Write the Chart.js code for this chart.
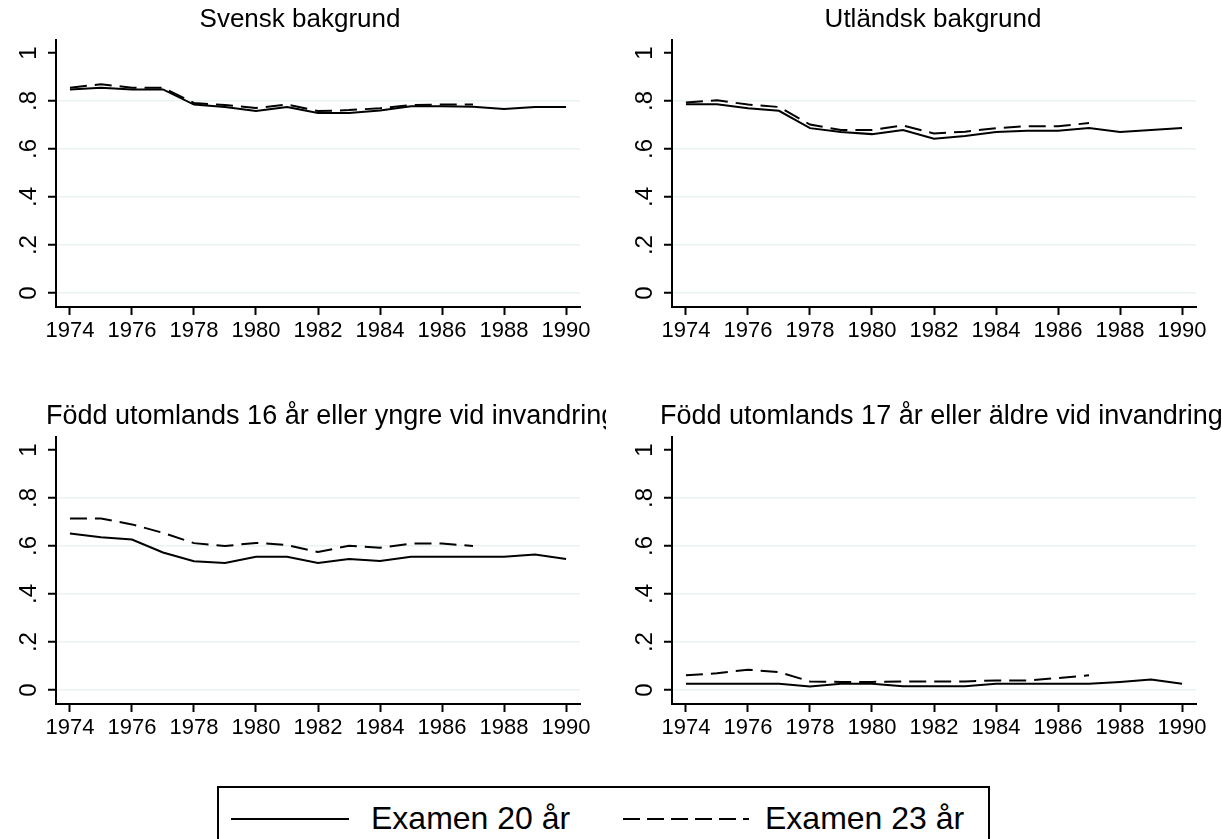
<!DOCTYPE html>
<html>
<head>
<meta charset="utf-8">
<script src="https://cdn.jsdelivr.net/npm/chart.js@4"></script>
<style>
  body { margin: 0; background: #fff; overflow: hidden; width: 1222px; height: 839px; position: relative;
         font-family: 'Liberation Sans', Arial, sans-serif; }
  canvas { position: absolute; }
  #legend { position: absolute; left: 217px; top: 786px; width: 769px; height: 80px; border: 2px solid #000; }
  #legend .txt { position: absolute; top: 12px; font-size: 32px; line-height: 36px; color: #000; white-space: nowrap; }
  #legend svg { position: absolute; top: 29px; }
</style>
</head>
<body>
<canvas id="panel1" width="600" height="352" style="left:0;top:0"></canvas>
<canvas id="panel2" width="592" height="352" style="left:630px;top:0"></canvas>
<canvas id="panel3" width="606" height="352" style="left:0;top:397px"></canvas>
<canvas id="panel4" width="592" height="352" style="left:630px;top:397px"></canvas>

<div id="legend">
  <svg width="120" height="4" style="left:12px"><line x1="0" y1="2" x2="118" y2="2" stroke="#000" stroke-width="2"/></svg>
  <span class="txt" style="left:152px">Examen 20 år</span>
  <svg width="126" height="4" style="left:404px"><line x1="0" y1="2" x2="126" y2="2" stroke="#000" stroke-width="2" stroke-dasharray="17 7"/></svg>
  <span class="txt" style="left:546px">Examen 23 år</span>
</div>

<script>
// years on the x axis; the 23-year series stops in 1987
const years = [1974, 1975, 1976, 1977, 1978, 1979, 1980, 1981, 1982, 1983, 1984, 1985, 1986, 1987, 1988, 1989, 1990];
const xTicks = [1974, 1976, 1978, 1980, 1982, 1984, 1986, 1988, 1990];
const yTicks = [0, 0.2, 0.4, 0.6, 0.8, 1];
const yTickLabels = ['0', '.2', '.4', '.6', '.8', '1'];

const titles = [
    'Svensk bakgrund',
    'Utländsk bakgrund',
    'Född utomlands 16 år eller yngre vid invandring',
    'Född utomlands 17 år eller äldre vid invandring'
];
const legendLabels = ['Examen 20 år', 'Examen 23 år'];

const svensk20 = [.848, .855, .848, .848, .785, .775, .758, .775, .750, .750, .760, .778, .778, .776, .767, .775, .775];
const svensk23 = [.855, .870, .855, .855, .792, .783, .771, .785, .758, .762, .770, .783, .785, .785];

const utl20 = [.786, .786, .770, .759, .687, .671, .662, .679, .643, .654, .671, .676, .676, .687, .671, .679, .687];
const utl23 = [.794, .803, .785, .775, .702, .679, .679, .698, .665, .672, .687, .695, .695, .708];

const ung20 = [.652, .636, .627, .573, .537, .529, .555, .555, .529, .546, .538, .555, .555, .555, .555, .565, .546];
const ung23 = [.715, .715, .690, .655, .612, .600, .613, .604, .575, .601, .593, .610, .610, .600];

const aldre20 = [.026, .026, .026, .026, .015, .026, .026, .016, .016, .016, .026, .026, .026, .026, .034, .044, .026];
const aldre23 = [.062, .070, .085, .075, .036, .034, .034, .036, .036, .036, .040, .040, .050, .062];

Chart.defaults.font.family = "'Liberation Sans', Arial, sans-serif";
Chart.defaults.color = '#000';

// the panel titles sit at fixed spots (the long ones run past the panel edge)
const panelTitle = {
    id: 'panelTitle',
    afterDraw(chart, args, opts) {
        const ctx = chart.ctx;
        ctx.save();
        ctx.font = opts.size + "px 'Liberation Sans', Arial, sans-serif";
        ctx.fillStyle = '#000';
        ctx.textAlign = opts.align;
        ctx.textBaseline = 'middle';
        ctx.fillText(opts.text, opts.x, 20);
        ctx.restore();
    }
};

function toPoints(values) {
    return values.map((v, i) => ({ x: years[i], y: v }));
}

function makePanel(id, title, ex20, ex23, box) {
    const canvas = document.getElementById(id);
    new Chart(canvas, {
        type: 'line',
        data: {
            datasets: [
                {
                    label: legendLabels[0],
                    data: toPoints(ex20),
                    borderColor: '#000',
                    borderWidth: 2,
                    pointRadius: 0,
                    tension: 0
                },
                {
                    label: legendLabels[1],
                    data: toPoints(ex23),
                    borderColor: '#000',
                    borderWidth: 2,
                    borderDash: [17, 8],
                    pointRadius: 0,
                    tension: 0
                }
            ]
        },
        plugins: [panelTitle],
        options: {
            responsive: false,
            animation: false,
            layout: { padding: { left: 0, right: box.padRight, top: 40, bottom: 0 } },
            scales: {
                x: {
                    type: 'linear',
                    min: 1973.55,
                    max: 1990.45,
                    afterBuildTicks: scale => { scale.ticks = xTicks.map(v => ({ value: v })); },
                    afterFit: scale => { scale.height = 45; },
                    border: { color: '#000', width: 2 },
                    grid: { drawOnChartArea: false, tickColor: '#000', tickLength: 8, tickWidth: 2 },
                    ticks: {
                        autoSkip: false,
                        maxRotation: 0,
                        padding: 3,
                        color: '#000',
                        font: { size: 22 },
                        callback: v => String(v)
                    }
                },
                y: {
                    min: -0.058,
                    max: 1.054,
                    afterBuildTicks: scale => { scale.ticks = yTicks.map(v => ({ value: v })); },
                    afterFit: scale => { scale.width = box.yWidth; },
                    border: { color: '#000', width: 2 },
                    grid: {
                        color: ctx => (ctx.tick && ctx.tick.value === 1) ? 'rgba(0,0,0,0)' : '#eaf2f3',
                        lineWidth: 1.5,
                        tickColor: '#000',
                        tickLength: 8,
                        tickWidth: 2
                    },
                    ticks: {
                        minRotation: 90,
                        maxRotation: 90,
                        crossAlign: 'center',
                        padding: 9,
                        color: '#000',
                        font: { size: 24 },
                        callback: v => yTickLabels[yTicks.indexOf(v)]
                    }
                }
            },
            plugins: {
                legend: { display: false },
                tooltip: { enabled: false },
                title: { display: false },
                panelTitle: { text: title, x: box.titleX, align: box.titleAlign, size: box.titleSize }
            }
        }
    });
}

makePanel('panel1', titles[0], svensk20, svensk23, { padRight: 20, yWidth: 56, titleX: 300, titleAlign: 'center', titleSize: 26 });
makePanel('panel2', titles[1], utl20, utl23, { padRight: 26, yWidth: 42, titleX: 303, titleAlign: 'center', titleSize: 26 });
makePanel('panel3', titles[2], ung20, ung23, { padRight: 26, yWidth: 56, titleX: 46, titleAlign: 'left', titleSize: 27 });
makePanel('panel4', titles[3], aldre20, aldre23, { padRight: 26, yWidth: 42, titleX: 30, titleAlign: 'left', titleSize: 27 });
</script>
</body>
</html>
